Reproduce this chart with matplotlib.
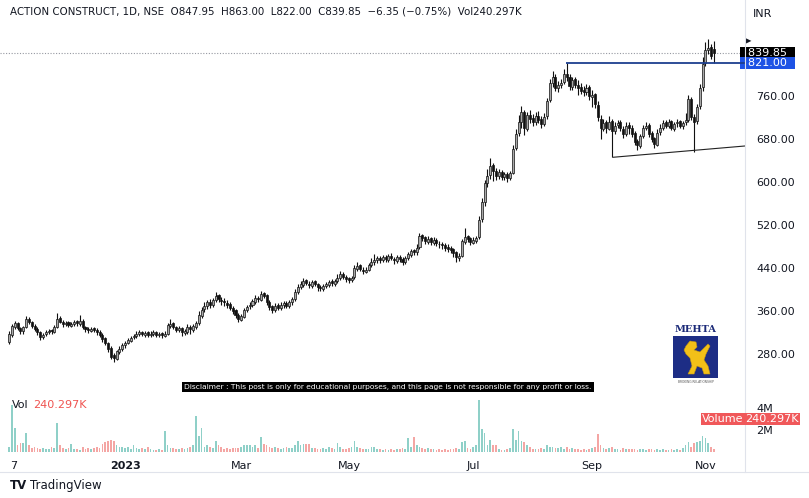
import matplotlib.pyplot as plt
import matplotlib.transforms as mtransforms
from matplotlib.patches import Rectangle, Polygon

# daily candles, Nov 2022 - Nov 2023
opens = [302, 316, 330, 338, 329, 322, 331, 346, 340, 333,
         327, 321, 311, 317, 320, 324, 321, 331, 347, 340,
         335, 339, 333, 335, 341, 336, 342, 331, 327, 323,
         328, 324, 321, 316, 309, 301, 292, 278, 271, 284,
         289, 297, 301, 305, 311, 313, 317, 321, 316, 320,
         315, 317, 321, 315, 319, 314, 318, 333, 337, 330,
         324, 329, 319, 321, 331, 325, 331, 337, 351, 363,
         369, 377, 371, 381, 389, 381, 379, 375, 373, 366,
         361, 353, 344, 349, 361, 369, 371, 377, 385, 381,
         393, 389, 377, 369, 361, 371, 365, 371, 375, 369,
         377, 383, 396, 404, 409, 417, 411, 407, 415, 410,
         405, 401, 407, 409, 415, 411, 415, 421, 429, 423,
         421, 417, 423, 439, 445, 437, 433, 437, 445, 451,
         454, 459, 454, 461, 455, 463, 457, 453, 461, 457,
         451, 459, 465, 473, 469, 479, 501, 497, 489, 495,
         487, 493, 485, 485, 483, 479, 477, 475, 469, 459,
         463, 489, 499, 495, 487, 491, 497, 531, 563, 598,
         613, 631, 621, 611, 619, 609, 615, 607, 617, 664,
         692, 711, 731, 699, 725, 719, 711, 723, 717, 707,
         722, 752, 784, 796, 774, 781, 786, 801, 796, 777,
         791, 781, 776, 771, 767, 776, 759, 763, 744, 718,
         699, 711, 699, 713, 694, 706, 711, 699, 689, 706,
         701, 691, 676, 667, 686, 701, 706, 691, 681, 669,
         693, 701, 711, 704, 713, 699, 709, 713, 704, 711,
         716, 754, 721, 713, 741, 776, 822, 846, 852, 847.95]
highs = [322, 336, 342, 340, 331, 333, 350, 348, 342, 335,
         330, 323, 319, 324, 327, 327, 334, 356, 350, 343,
         342, 341, 339, 344, 343, 352, 345, 333, 330, 331,
         331, 328, 324, 319, 312, 303, 294, 282, 288, 294,
         300, 304, 309, 314, 318, 322, 324, 323, 322, 322,
         322, 324, 323, 321, 321, 322, 338, 345, 340, 333,
         333, 331, 327, 336, 334, 336, 342, 360, 368, 376,
         381, 382, 384, 396, 392, 386, 384, 380, 377, 370,
         364, 357, 354, 366, 372, 376, 382, 390, 388, 398,
         396, 392, 380, 372, 374, 374, 376, 378, 378, 380,
         386, 400, 410, 416, 422, 420, 415, 418, 418, 412,
         409, 410, 414, 418, 419, 420, 428, 434, 432, 427,
         424, 426, 446, 452, 448, 441, 441, 450, 458, 466,
         463, 462, 465, 464, 466, 467, 461, 465, 464, 460,
         462, 470, 476, 476, 484, 506, 504, 500, 499, 498,
         497, 496, 490, 489, 486, 484, 481, 478, 472, 468,
         494, 515, 502, 498, 497, 500, 536, 570, 604, 624,
         645, 636, 626, 624, 622, 618, 619, 620, 668, 698,
         725, 742, 734, 730, 734, 726, 730, 732, 722, 728,
         756, 792, 806, 800, 788, 792, 810, 821, 800, 796,
         796, 790, 784, 778, 782, 780, 772, 766, 750, 724,
         718, 716, 722, 718, 712, 716, 716, 704, 712, 712,
         706, 694, 680, 690, 706, 712, 710, 694, 684, 698,
         708, 716, 716, 718, 716, 712, 718, 716, 714, 728,
         762, 758, 726, 746, 782, 832, 860, 866, 856, 863]
lows = [298, 312, 326, 325, 318, 318, 328, 336, 328, 322,
        316, 306, 308, 313, 317, 318, 319, 328, 337, 331,
        332, 330, 330, 333, 333, 333, 326, 321, 319, 320,
        320, 315, 311, 303, 296, 284, 270, 265, 268, 280,
        286, 292, 298, 302, 307, 310, 313, 313, 312, 312,
        311, 313, 312, 311, 310, 311, 316, 328, 326, 320,
        320, 314, 315, 318, 318, 320, 326, 334, 347, 358,
        364, 366, 368, 377, 377, 372, 370, 366, 361, 354,
        347, 340, 341, 347, 358, 364, 367, 373, 377, 379,
        384, 372, 362, 356, 358, 361, 362, 366, 365, 366,
        372, 378, 392, 400, 404, 408, 402, 403, 406, 398,
        398, 397, 403, 405, 407, 407, 412, 418, 420, 414,
        412, 414, 420, 435, 434, 429, 430, 434, 442, 446,
        450, 450, 451, 452, 452, 454, 448, 450, 451, 446,
        448, 455, 461, 464, 465, 476, 490, 484, 484, 482,
        483, 481, 478, 476, 472, 470, 468, 461, 452, 453,
        460, 484, 489, 482, 484, 487, 494, 526, 556, 590,
        606, 602, 604, 606, 604, 604, 600, 604, 614, 660,
        686, 700, 688, 694, 710, 704, 706, 710, 700, 704,
        718, 748, 776, 770, 768, 774, 782, 788, 772, 772,
        775, 762, 764, 760, 762, 752, 740, 738, 714, 680,
        694, 692, 696, 646, 690, 700, 694, 682, 686, 690,
        684, 668, 660, 664, 682, 696, 684, 674, 664, 667,
        688, 696, 700, 700, 696, 694, 703, 700, 698, 706,
        712, 716, 656, 708, 735, 770, 816, 838, 828, 822]
closes = [318, 332, 338, 328, 322, 330, 345, 340, 332, 326,
          320, 312, 316, 320, 323, 322, 330, 346, 340, 336,
          338, 334, 336, 340, 337, 342, 330, 326, 324, 327,
          324, 320, 315, 308, 300, 290, 275, 272, 285, 290,
          296, 300, 306, 310, 314, 318, 320, 317, 319, 316,
          318, 320, 316, 318, 315, 318, 334, 336, 330, 325,
          328, 320, 322, 330, 326, 332, 338, 352, 362, 370,
          376, 372, 380, 388, 382, 378, 376, 372, 366, 360,
          352, 345, 350, 362, 368, 372, 378, 384, 382, 392,
          388, 376, 368, 362, 370, 366, 372, 374, 370, 376,
          382, 396, 405, 410, 416, 412, 408, 414, 410, 404,
          402, 406, 410, 414, 412, 416, 422, 428, 424, 420,
          418, 422, 440, 444, 438, 434, 436, 446, 452, 455,
          458, 455, 460, 456, 462, 458, 454, 460, 456, 452,
          458, 466, 472, 470, 478, 500, 496, 490, 494, 488,
          492, 486, 484, 482, 478, 476, 474, 468, 460, 462,
          490, 498, 494, 488, 492, 496, 530, 562, 598, 612,
          630, 620, 612, 618, 610, 614, 608, 616, 662, 690,
          712, 730, 700, 724, 718, 712, 722, 716, 708, 720,
          750, 785, 795, 775, 780, 785, 800, 795, 778, 790,
          780, 775, 770, 768, 775, 760, 762, 745, 720, 700,
          710, 700, 712, 695, 705, 710, 700, 690, 705, 700,
          690, 675, 668, 685, 700, 705, 690, 680, 670, 692,
          700, 710, 705, 712, 700, 708, 712, 705, 710, 715,
          755, 720, 712, 740, 775, 820, 845, 850, 835, 839.85]
# volume in millions
volumes = [0.5, 4.3, 2.2, 0.6, 0.8, 0.8, 1.7, 0.6, 0.4, 0.5,
           0.4, 0.3, 0.4, 0.3, 0.3, 0.5, 0.4, 2.6, 0.6, 0.4,
           0.3, 0.4, 0.7, 0.3, 0.3, 0.2, 0.5, 0.3, 0.4, 0.3,
           0.4, 0.5, 0.4, 0.7, 0.9, 1.0, 1.1, 1.0, 0.6, 0.5,
           0.5, 0.4, 0.5, 0.3, 0.6, 0.4, 0.3, 0.4, 0.3, 0.5,
           0.3, 0.2, 0.2, 0.3, 0.2, 1.9, 0.6, 0.4, 0.4, 0.3,
           0.3, 0.4, 0.3, 0.4, 0.5, 0.6, 3.3, 1.5, 2.2, 0.5,
           0.6, 0.5, 0.4, 1.0, 0.6, 0.5, 0.3, 0.4, 0.3, 0.4,
           0.4, 0.4, 0.5, 0.6, 0.6, 0.6, 0.5, 0.6, 0.4, 1.4,
           0.7, 0.6, 0.5, 0.4, 0.5, 0.4, 0.3, 0.4, 0.5, 0.4,
           0.4, 0.6, 1.0, 0.6, 0.7, 0.7, 0.7, 0.4, 0.4, 0.3,
           0.3, 0.4, 0.3, 0.5, 0.4, 0.3, 0.8, 0.5, 0.3, 0.3,
           0.4, 0.5, 1.0, 0.5, 0.4, 0.3, 0.3, 0.3, 0.5, 0.5,
           0.3, 0.3, 0.2, 0.3, 0.2, 0.3, 0.2, 0.3, 0.3, 0.4,
           0.3, 1.3, 0.5, 1.4, 0.6, 0.5, 0.4, 0.3, 0.4, 0.3,
           0.3, 0.2, 0.3, 0.2, 0.3, 0.2, 0.3, 0.3, 0.4, 0.3,
           0.9, 1.0, 0.4, 0.3, 0.5, 0.6, 4.75, 2.1, 1.7, 0.6,
           1.1, 0.6, 0.6, 0.3, 0.2, 0.2, 0.3, 0.4, 2.1, 1.1,
           1.9, 1.0, 0.9, 0.6, 0.5, 0.3, 0.3, 0.3, 0.4, 0.3,
           0.6, 0.5, 0.5, 0.4, 0.4, 0.5, 0.3, 0.5, 0.3, 0.4,
           0.3, 0.3, 0.2, 0.3, 0.2, 0.3, 0.4, 0.5, 1.6, 0.6,
           0.4, 0.3, 0.4, 0.5, 0.3, 0.3, 0.2, 0.4, 0.3, 0.3,
           0.3, 0.3, 0.2, 0.3, 0.3, 0.2, 0.3, 0.3, 0.2, 0.3,
           0.2, 0.3, 0.2, 0.2, 0.3, 0.2, 0.3, 0.2, 0.4, 0.6,
           0.9, 0.5, 0.8, 0.9, 1.0, 1.5, 1.3, 0.8, 0.5, 0.24]

tick_pos = [1.8, 41, 82, 120.1, 164, 206, 246.3]
tick_labels = ['7', '2023', 'Mar', 'May', 'Jul', 'Sep', 'Nov']
price_ticks = [280, 360, 440, 520, 600, 680, 760]

last_close = 839.85
resistance = 821.0
res_start = 196.8
trend_x = [213.4, 260]
trend_y = [646, 667]

W, H = 809, 498
TXT = '#131722'


def rect(x, y, w, h):
    return [x / W, 1 - (y + h) / H, w / W, h / H]


fig = plt.figure(figsize=(W / 100, H / 100), dpi=100)
ax = fig.add_axes(rect(0, 0, 745, 395))
axv = fig.add_axes(rect(0, 395, 745, 60), sharex=ax)

n = len(closes)
xs = list(range(n))
up = [c >= o for o, c in zip(opens, closes)]

# candles
ax.vlines(xs, lows, highs, color='#111111', lw=0.8, zorder=2)
bottoms = [min(o, c) for o, c in zip(opens, closes)]
heights = [max(abs(c - o), 0.8) for o, c in zip(opens, closes)]
ax.bar(xs, heights, bottom=bottoms, width=0.72,
       color=['#a8a8a8' if u else '#111111' for u in up],
       edgecolor='#111111', linewidth=0.5, zorder=3)

ax.axhline(last_close, color='#9598a1', ls=(0, (1, 1.5)), lw=0.8, zorder=1)
ax.hlines(resistance, res_start, 262, color='#1d3f8f', lw=1.3, zorder=4)
ax.plot(trend_x, trend_y, color='#222222', lw=0.8, zorder=4)

ax.set_xlim(-3.2, 260)
ax.set_ylim(203.7, 938.6)
ax.yaxis.tick_right()
ax.set_yticks(price_ticks)
ax.set_yticklabels(['%.2f' % p for p in price_ticks])
ax.tick_params(axis='y', length=0, pad=8, labelsize=8, labelcolor=TXT)
ax.tick_params(axis='x', length=0, labelbottom=False)
for s in ax.spines.values():
    s.set_visible(False)

# price tags on the right axis
tr = mtransforms.blended_transform_factory(ax.transAxes, ax.transData)
ax.text(0.995, last_close, '  839.85  ', transform=tr, color='white', fontsize=8,
        va='center', ha='left',
        bbox=dict(boxstyle='square,pad=0.1', fc='black', ec='none'))
ax.text(0.995, resistance, '  821.00  ', transform=tr, color='white', fontsize=8,
        va='center', ha='left',
        bbox=dict(boxstyle='square,pad=0.1', fc='#1e53e5', ec='none'))
ax.text(1.0, 864, '\u25b6', transform=tr, fontsize=6, va='center', ha='left', color=TXT)

# volume
axv.bar(xs, volumes, width=0.6,
        color=['#8fd0c8' if u else '#f4a6a4' for u in up], zorder=2)
axv.set_ylim(-0.27, 5.18)
axv.yaxis.tick_right()
axv.set_yticks([2, 4])
axv.set_yticklabels(['2M', '4M'])
axv.tick_params(axis='y', length=0, pad=8, labelsize=8, labelcolor=TXT)
axv.set_xticks(tick_pos)
axv.set_xticklabels(tick_labels)
axv.tick_params(axis='x', length=0, pad=4, labelsize=8, labelcolor=TXT)
axv.get_xticklabels()[1].set_fontweight('bold')
for s in axv.spines.values():
    s.set_visible(False)

# frame lines
fig.add_artist(plt.Line2D([745 / W, 745 / W], [1 - 472 / H, 1], color='#e0e3eb', lw=0.8))
fig.add_artist(plt.Line2D([0, 1], [1 - 472 / H, 1 - 472 / H], color='#e0e3eb', lw=0.8))


def ftext(x, y, s, **kw):
    return fig.text(x / W, 1 - y / H, s, va='center', **kw)


ftext(10, 12, 'ACTION CONSTRUCT, 1D, NSE  O847.95  H863.00  L822.00  C839.85  '
      '\u22126.35 (\u22120.75%)  Vol240.297K', fontsize=7.4, color=TXT)
ftext(753, 14, 'INR', fontsize=8, color=TXT)
ftext(12, 405, 'Vol', fontsize=8, color=TXT)
ftext(33, 405, '240.297K', fontsize=8, color='#ef5350')
ftext(388, 387, 'Disclaimer : This post is only for educational purposes, and this page '
      'is not responsible for any profit or loss.', fontsize=5.4, color='white',
      ha='center', bbox=dict(boxstyle='square,pad=0.25', fc='black', ec='none'))
ftext(723, 419, 'Volume', fontsize=8, color='white', ha='center',
      bbox=dict(boxstyle='square,pad=0.12', fc='#f0585a', ec='none'))
ftext(772, 419, '240.297K', fontsize=8, color='white', ha='center',
      bbox=dict(boxstyle='square,pad=0.12', fc='#f0585a', ec='none'))
ftext(10, 485, 'TV', fontsize=8.5, color=TXT, fontweight='bold')
ftext(30, 485, 'TradingView', fontsize=8.5, color=TXT)

# Mehta logo
logo = fig.add_axes(rect(670, 322, 52, 65))
logo.set_xlim(0, 52)
logo.set_ylim(65, 0)
logo.axis('off')
logo.text(26, 7, 'MEHTA', ha='center', va='center', fontsize=7,
          family='DejaVu Serif', fontweight='bold', color='#1c2a78')
logo.add_patch(Rectangle((3, 14), 45, 42, fc='#1d2d85', ec='none'))
lion = [(16, 24), (20, 19), (26, 20), (27, 25), (24, 28), (30, 30), (34, 26),
        (38, 22), (40, 24), (36, 32), (34, 38), (38, 44), (40, 52), (34, 52),
        (32, 46), (27, 44), (24, 52), (18, 52), (22, 44), (20, 36), (16, 32), (14, 28)]
logo.add_patch(Polygon(lion, closed=True, fc='#f2c018', ec='#c99a10', lw=0.4))
logo.text(26, 60, 'BROKING RELATIONSHIP', ha='center', va='center', fontsize=2.2, color='#555555')

fig.savefig('out.png', dpi=100, facecolor='white')
